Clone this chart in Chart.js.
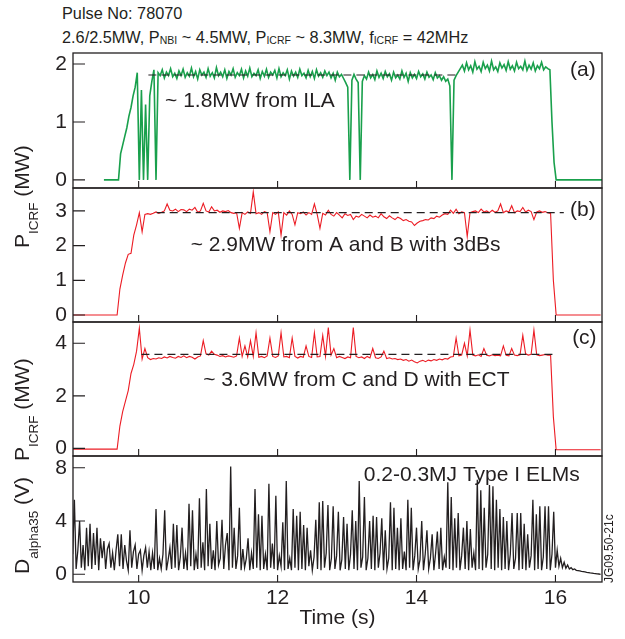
<!DOCTYPE html>
<html lang="en">
<head>
  <meta charset="UTF-8">
  <title>Pulse No: 78070 - ICRF power and D-alpha</title>
  <script src="https://cdn.jsdelivr.net/npm/chart.js"></script>
  <style>
    body { margin: 0; background: #fff; }
    #page { position: relative; width: 625px; height: 639px; overflow: hidden;
            font-family: 'Liberation Sans', Arial, sans-serif; color: #231f20; }
    #page canvas { position: absolute; left: 0; top: 0; }
    .head { position: absolute; left: 62px; font-size: 16.3px; line-height: 20px; white-space: nowrap; }
    .head small { font-size: 10.5px; vertical-align: -1px; }
    .ylab { position: absolute; left: 11px; font-size: 21px; line-height: 21px; white-space: nowrap;
            transform-origin: left top; transform: rotate(-90deg); }
    .ylab sub { font-size: 13.5px; vertical-align: -9px; }
    .tag { position: absolute; left: 603px; top: 583px; font-size: 12px; line-height: 12px; white-space: nowrap;
           transform-origin: left top; transform: rotate(-90deg); }
  </style>
</head>
<body>
<div id="page">
  <div class="head" style="top:3px">Pulse No: 78070</div>
  <div class="head" style="top:27px">2.6/2.5MW, P<small>NBI</small> ~ 4.5MW, P<small>ICRF</small> ~ 8.3MW, f<small>ICRF</small> = 42MHz</div>

  <canvas id="panelA" width="625" height="639"></canvas>
  <canvas id="panelB" width="625" height="639"></canvas>
  <canvas id="panelC" width="625" height="639"></canvas>
  <canvas id="panelD" width="625" height="639"></canvas>

  <div class="ylab" style="top:248px">P<sub>ICRF</sub> (MW)</div>
  <div class="ylab" style="top:461px">P<sub>ICRF</sub> (MW)</div>
  <div class="ylab" style="top:574px">D<sub>alpha35</sub> (V)</div>
  <div class="tag">JG09.50-21c</div>
</div>

<script>
  // ---- data ----
  const timeTicks = [10, 12, 14, 16];

  // (a) ILA power, sampled every 0.03 s from 9.50 s
  const ilaT0 = 9.50, ilaDt = 0.03;
  const ilaPower = [
    0, 0, 0, 0, 0, 0, 0, 0,
    0.45, 0.6, 0.75, 0.9, 1.1, 1.25, 1.45, 1.6, 1.85,
    0, 1.55, 0, 1.3, 0, 1.45, 1.7, 1.9, 0, 1.85,
    1.8, 1.9, 1.76, 1.86, 1.8, 1.92, 1.78, 1.84, 1.75, 1.88,
    1.8, 1.91, 1.77, 1.85, 1.79, 1.93, 1.78, 1.87, 1.74, 1.9,
    1.81, 1.86, 1.77, 1.92, 1.79, 1.85, 1.76, 1.94, 1.8, 1.86,
    1.78, 1.9, 1.75, 1.87, 1.81, 1.92, 1.77, 1.85, 1.8, 1.91,
    1.76, 1.88, 1.79, 1.93, 1.78, 1.84, 1.8, 1.9, 1.75, 1.87,
    1.79, 1.91, 1.77, 1.86, 1.81, 1.89, 1.76, 1.92, 1.78, 1.85,
    1.8, 1.9, 1.74, 1.88, 1.79, 1.86, 1.77, 1.91, 1.8, 1.84,
    1.76, 1.89, 1.78, 1.87, 1.75, 1.9, 1.79, 1.85, 1.77, 1.88,
    1.8, 1.86, 1.76, 1.84, 1.72, 1.86, 1.78, 1.82,
    1.75, 1.68, 1.6,
    0,
    1.72, 1.82, 1.74, 1.68,
    0,
    1.7,
    1.8, 1.74, 1.86, 1.76, 1.82, 1.73, 1.88, 1.77, 1.84, 1.75,
    1.87, 1.78, 1.83, 1.72, 1.86, 1.76, 1.81, 1.74, 1.88, 1.77,
    1.84, 1.7, 1.85, 1.76, 1.82, 1.75, 1.87, 1.78, 1.83, 1.74,
    1.86, 1.77, 1.81, 1.73, 1.85, 1.76, 1.8, 1.72, 1.78, 1.7,
    1.74,
    1.62, 0, 1.72, 1.8, 1.86, 1.92,
    1.98, 1.88, 2.02, 1.9, 1.97, 1.86, 2.04, 1.91, 1.96, 1.87,
    2.03, 1.92, 1.98, 1.88, 2.05, 1.9, 1.95, 1.87, 2.02, 1.93,
    1.99, 1.89, 2.04, 1.91, 1.97, 1.88, 2.03, 1.92, 1.96, 1.9,
    2.05, 1.89, 1.98, 1.91, 2.02, 1.88, 1.97, 1.92, 2.03, 1.9,
    1.95, 1.92, 1.9,
    1.0, 0.3,
    0, 0, 0, 0, 0, 0, 0, 0, 0, 0, 0, 0, 0, 0, 0, 0, 0, 0, 0, 0, 0, 0, 0
  ];
  const ilaRefT = [10.14, 14.56];
  const ilaRefV = [1.81, 1.81];

  // (b) antennas A and B, (c) antennas C and D, sampled every 0.04 s from 9.05 s
  const abT0 = 9.05, abDt = 0.04;
  const abPower = [
    0, 0, 0, 0, 0, 0, 0, 0, 0, 0, 0, 0, 0, 0, 0, 0, 0,
    0.75, 1.15, 1.5, 1.75, 1.78, 2.3, 2.6, 2.95, 2.4, 2.9, 2.92,
    2.9, 2.93, 2.97, 2.93, 2.96, 3.0, 3.2, 3.02, 3.0, 3.05,
    2.98, 3.04, 3.03, 2.98, 3.05, 3.02, 3.1, 2.96, 3.0, 3.22,
    3.0, 2.97, 3.12, 3.0, 3.02, 2.96, 3.0, 2.98, 3.01, 2.95,
    2.93, 2.95, 2.5, 2.95, 2.9, 2.97, 2.93, 3.55, 2.92, 2.95,
    2.9, 2.98, 2.95, 2.4, 2.95, 2.9, 2.97, 2.3, 2.95, 2.88,
    3.0, 2.9, 2.6, 2.95, 2.92, 2.97, 2.88, 2.95, 2.9, 3.2,
    2.9, 2.5, 2.93, 2.88, 3.02, 2.9, 2.85, 2.95, 2.88, 2.8,
    2.92, 2.87, 2.9, 2.75, 2.85, 2.82, 2.9, 2.85, 2.8, 2.88,
    2.82, 2.85, 2.8, 2.92, 2.83, 2.78, 2.86, 2.8, 2.75, 2.82,
    2.78, 2.72, 2.75, 2.7, 2.68, 2.58, 2.65, 2.7, 2.72, 2.75,
    2.74, 2.8, 2.78, 2.85, 2.82, 2.88, 2.92, 2.9, 3.02, 2.93,
    3.05, 2.92, 2.97, 2.95, 2.26, 2.95, 2.98, 3.0, 2.95, 3.05,
    2.97, 3.0, 2.95, 3.02, 2.96, 3.0, 3.2, 2.95, 3.0, 2.97,
    3.15, 2.95, 3.0, 2.98, 3.1, 2.97, 3.02, 2.98, 2.75, 2.97,
    3.0, 2.96, 2.98, 2.95, 2.93, 1.0, 0,
    0, 0, 0, 0, 0, 0, 0, 0, 0, 0, 0, 0, 0, 0, 0, 0
  ];
  const abRefT = [10.26, 16.12];
  const abRefV = [2.95, 2.95];

  const cdPower = [
    -0.03, -0.03, -0.03, -0.03, -0.03, -0.03, -0.03, -0.03, -0.03,
    -0.03, -0.03, -0.03, -0.03, -0.03, -0.03, -0.03, -0.03,
    0.85, 1.4, 1.8, 2.2, 2.85, 3.2, 3.7, 4.57, 3.4, 3.8, 3.45,
    3.38, 3.42, 3.4, 3.45, 3.42, 3.48, 3.44, 3.5, 3.46, 3.43,
    3.5, 3.46, 3.52, 3.45, 3.5, 3.47, 3.4, 3.48, 3.52, 4.1,
    3.6, 3.55, 3.7, 3.58, 3.55, 3.5, 3.53, 3.48, 3.52, 3.5,
    3.47, 3.52, 4.2, 3.5, 3.9, 3.48, 4.1, 3.5, 4.4, 3.47,
    3.5, 3.45, 3.52, 4.2, 3.5, 3.46, 3.52, 4.4, 3.48, 3.5,
    3.45, 4.2, 3.5, 3.44, 3.5, 3.47, 3.9, 3.5, 3.46, 4.4,
    3.48, 3.5, 4.3, 3.5, 4.6, 3.55, 3.8, 3.45, 3.5, 3.46,
    3.42, 3.48, 3.45, 4.6, 3.5, 3.45, 3.48, 3.42, 3.5, 3.44,
    3.8, 3.45, 3.42, 3.48, 3.7, 3.42, 3.45, 3.4, 3.42, 3.38,
    3.4, 3.35, 3.38, 3.32, 3.36, 3.3, 3.25, 3.32, 3.35, 3.3,
    3.36, 3.33, 3.38, 3.35, 3.4, 3.37, 3.42, 3.4, 3.48, 3.5,
    4.2, 3.52, 3.55, 4.0, 3.52, 4.5, 3.55, 3.52, 3.56, 3.5,
    3.8, 3.54, 3.52, 3.56, 3.53, 3.55, 3.52, 3.9, 3.54, 3.52,
    3.8, 3.55, 3.53, 3.56, 4.3, 3.6, 3.55, 3.58, 4.5, 3.56,
    3.53, 3.55, 3.57, 3.55, 3.55, 1.2, -0.05,
    -0.05, -0.05, -0.05, -0.05, -0.05, -0.05, -0.05, -0.05,
    -0.05, -0.05, -0.05, -0.05, -0.05, -0.05, -0.05, -0.05
  ];
  const cdRefT = [10.04, 15.98];
  const cdRefV = [3.58, 3.58];

  // (d) D-alpha, sampled every 0.025 s from 9.05 s
  const daT0 = 9.05, daDt = 0.025;
  const dAlpha = [
    1.5, 5.6, 0.4, 1.8, 4.0, 0.5, 2.2, 0.3, 3.5, 0.6,
    3.8, 0.4, 3.1, 0.7, 3.5, 0.3, 2.7, 1.2, 2.5, 0.4,
    1.9, 2.3, 0.5, 1.6, 0.3, 1.8, 3.0, 0.6, 3.0, 0.4,
    2.2, 1.0, 0.3, 3.3, 0.5, 1.7, 2.2, 0.4, 1.5, 1.8,
    0.3, 1.4, 2.0, 0.5, 1.7, 0.3, 1.6, 0.4, 4.9, 0.3,
    1.2, 0.4, 1.5, 4.8, 0.3, 1.1, 2.0, 0.4, 3.8, 0.5,
    3.7, 0.3, 1.3, 3.5, 0.4, 1.6, 0.3, 5.3, 0.6, 4.8,
    0.3, 1.5, 0.4, 5.7, 0.5, 2.4, 0.3, 6.4, 0.6, 3.8,
    0.4, 1.8, 0.3, 4.0, 0.7, 1.2, 4.1, 0.4, 2.2, 3.1,
    0.3, 8.1, 0.5, 3.5, 0.4, 1.4, 5.0, 0.3, 1.9, 0.5,
    1.2, 2.7, 0.3, 1.6, 0.4, 6.4, 0.5, 4.5, 0.3, 4.4,
    0.4, 1.5, 0.3, 6.8, 0.5, 2.3, 0.4, 5.9, 0.3, 1.4,
    0.6, 3.9, 0.3, 7.0, 0.4, 1.2, 0.3, 4.9, 0.5, 4.4,
    0.3, 4.7, 0.4, 3.7, 0.3, 3.5, 0.6, 1.8, 0.3, 1.3,
    4.1, 0.4, 5.4, 0.3, 5.5, 0.5, 1.6, 5.2, 0.3, 1.2,
    5.1, 0.4, 1.4, 4.7, 0.3, 1.1, 4.3, 0.4, 3.8, 0.3,
    1.5, 4.8, 0.4, 4.0, 0.3, 7.0, 0.5, 1.3, 5.8, 0.3,
    1.2, 4.0, 0.4, 4.4, 0.3, 4.3, 0.5, 1.6, 4.2, 0.3,
    3.3, 0.4, 1.2, 5.4, 0.3, 5.0, 0.4, 3.5, 0.3, 4.2,
    0.4, 1.7, 0.3, 5.6, 0.5, 5.0, 0.3, 1.4, 3.5, 0.4,
    1.1, 4.0, 0.3, 1.5, 3.3, 0.4, 1.2, 3.0, 0.3, 1.6,
    3.2, 0.4, 3.5, 0.3, 1.3, 0.5, 6.9, 0.4, 5.8, 0.3,
    4.2, 0.5, 4.6, 0.3, 1.4, 3.5, 0.4, 4.0, 0.3, 3.4,
    0.5, 1.6, 0.3, 7.1, 0.4, 6.3, 0.3, 5.0, 0.5, 1.5,
    6.7, 0.4, 6.6, 0.3, 5.6, 0.5, 4.9, 0.3, 4.3, 0.4,
    4.0, 0.3, 1.5, 4.6, 0.4, 1.2, 4.6, 0.3, 4.6, 0.4,
    3.8, 0.3, 3.0, 0.5, 1.4, 5.6, 0.3, 4.5, 0.4, 5.1,
    0.3, 1.3, 5.1, 0.4, 5.1, 0.3, 1.5, 4.7, 0.5, 1.8,
    0.6, 1.2, 0.5, 0.9, 0.45, 0.7, 0.4, 0.5, 0.35, 0.4,
    0.3, 0.28, 0.25, 0.22, 0.2, 0.18, 0.15, 0.13, 0.1, 0.08,
    0.06, 0.05, 0.03, 0.02, 0.0
  ];

  // ---- layout / style ----
  const W = 625, H = 639;
  const PLOT_LEFT = 73, PLOT_RIGHT = 602, Y_AXIS_W = 45;
  const T_MIN = 9.055, T_MAX = 16.67;
  const INK = '#231f20', GREEN = '#19a04c', RED = '#ec1c24';
  const FONT = { family: "'Liberation Sans', Arial, sans-serif", size: 21 };

  const sampled = (t0, dt, vals) => vals.map((v, i) => ({ x: t0 + i * dt, y: v }));
  const paired = (ts, vs) => ts.map((t, i) => ({ x: t, y: vs[i] }));

  function trace(points, color, width) {
    return { data: points, borderColor: color, borderWidth: width, pointRadius: 0, tension: 0, fill: false };
  }
  function refLine(points) {
    return { data: points, borderColor: INK, borderWidth: 1.2, borderDash: [8, 5], pointRadius: 0, fill: false };
  }

  // frame, inward ticks and the in-panel notes
  const framePlugin = {
    id: 'frame',
    afterDatasetsDraw(chart, args, opts) {
      const { ctx, chartArea: a, scales: { x, y } } = chart;
      ctx.save();
      ctx.strokeStyle = INK;
      ctx.lineWidth = 1.3;
      ctx.strokeRect(a.left, a.top, a.right - a.left, a.bottom - a.top);
      ctx.lineWidth = 1.1;
      ctx.beginPath();
      opts.yTicks.forEach(v => {
        const py = y.getPixelForValue(v);
        ctx.moveTo(a.left, py);
        ctx.lineTo(a.left + 12, py);
      });
      timeTicks.forEach(t => {
        const px = x.getPixelForValue(t);
        ctx.moveTo(px, a.bottom);
        ctx.lineTo(px, a.bottom - 7);
      });
      ctx.stroke();
      ctx.fillStyle = INK;
      ctx.font = `${FONT.size}px ${FONT.family}`;
      ctx.textBaseline = 'middle';
      opts.notes.forEach(n => ctx.fillText(n.text, x.getPixelForValue(n.t), y.getPixelForValue(n.v)));
      ctx.restore();
    }
  };

  function makePanel(id, top, bottom, yMin, yMax, yTicks, datasets, notes, showTime) {
    return new Chart(document.getElementById(id), {
      type: 'line',
      data: { datasets },
      options: {
        responsive: false,
        animation: false,
        events: [],
        layout: { padding: { left: PLOT_LEFT - Y_AXIS_W, right: W - PLOT_RIGHT, top: top, bottom: showTime ? 0 : H - bottom } },
        plugins: {
          legend: { display: false },
          tooltip: { enabled: false },
          frame: { yTicks, notes }
        },
        scales: {
          x: {
            type: 'linear', min: T_MIN, max: T_MAX, display: showTime,
            afterFit: s => { s.height = showTime ? H - bottom : 0; },
            afterBuildTicks: s => { s.ticks = timeTicks.map(v => ({ value: v })); },
            grid: { display: false, drawTicks: false },
            border: { display: false },
            ticks: { font: FONT, color: INK, padding: 4, maxRotation: 0, autoSkip: false },
            title: { display: true, text: 'Time (s)', font: FONT, color: INK, padding: { top: 0, bottom: 8 } }
          },
          y: {
            min: yMin, max: yMax,
            afterFit: s => { s.width = Y_AXIS_W; },
            afterBuildTicks: s => { s.ticks = yTicks.map(v => ({ value: v })); },
            grid: { display: false, drawTicks: false },
            border: { display: false },
            ticks: { font: FONT, color: INK, padding: 6, autoSkip: false }
          }
        }
      },
      plugins: [framePlugin]
    });
  }

  makePanel('panelA', 53, 188, -0.14, 2.19, [0, 1, 2],
    [refLine(paired(ilaRefT, ilaRefV)), trace(sampled(ilaT0, ilaDt, ilaPower), GREEN, 1.6)],
    [{ text: '~ 1.8MW from ILA', t: 10.38, v: 1.35 }, { text: '(a)', t: 16.21, v: 1.9 }], false);

  makePanel('panelB', 188, 322, -0.2, 3.66, [0, 1, 2, 3],
    [refLine(paired(abRefT, abRefV)), trace(sampled(abT0, abDt, abPower), RED, 1.1)],
    [{ text: '~ 2.9MW from A and B with 3dBs', t: 10.75, v: 2.02 }, { text: '(b)', t: 16.21, v: 3.03 }], false);

  makePanel('panelC', 322, 456, -0.29, 4.81, [0, 2, 4],
    [refLine(paired(cdRefT, cdRefV)), trace(sampled(abT0, abDt, cdPower), RED, 1.1)],
    [{ text: '~ 3.6MW from C and D with ECT', t: 10.93, v: 2.6 }, { text: '(c)', t: 16.24, v: 4.2 }], false);

  makePanel('panelD', 456, 582, -0.58, 8.88, [0, 4, 8],
    [trace(sampled(daT0, daDt, dAlpha), INK, 1.3)],
    [{ text: '0.2-0.3MJ Type I ELMs', t: 13.24, v: 7.45 }], true);
</script>
</body>
</html>
